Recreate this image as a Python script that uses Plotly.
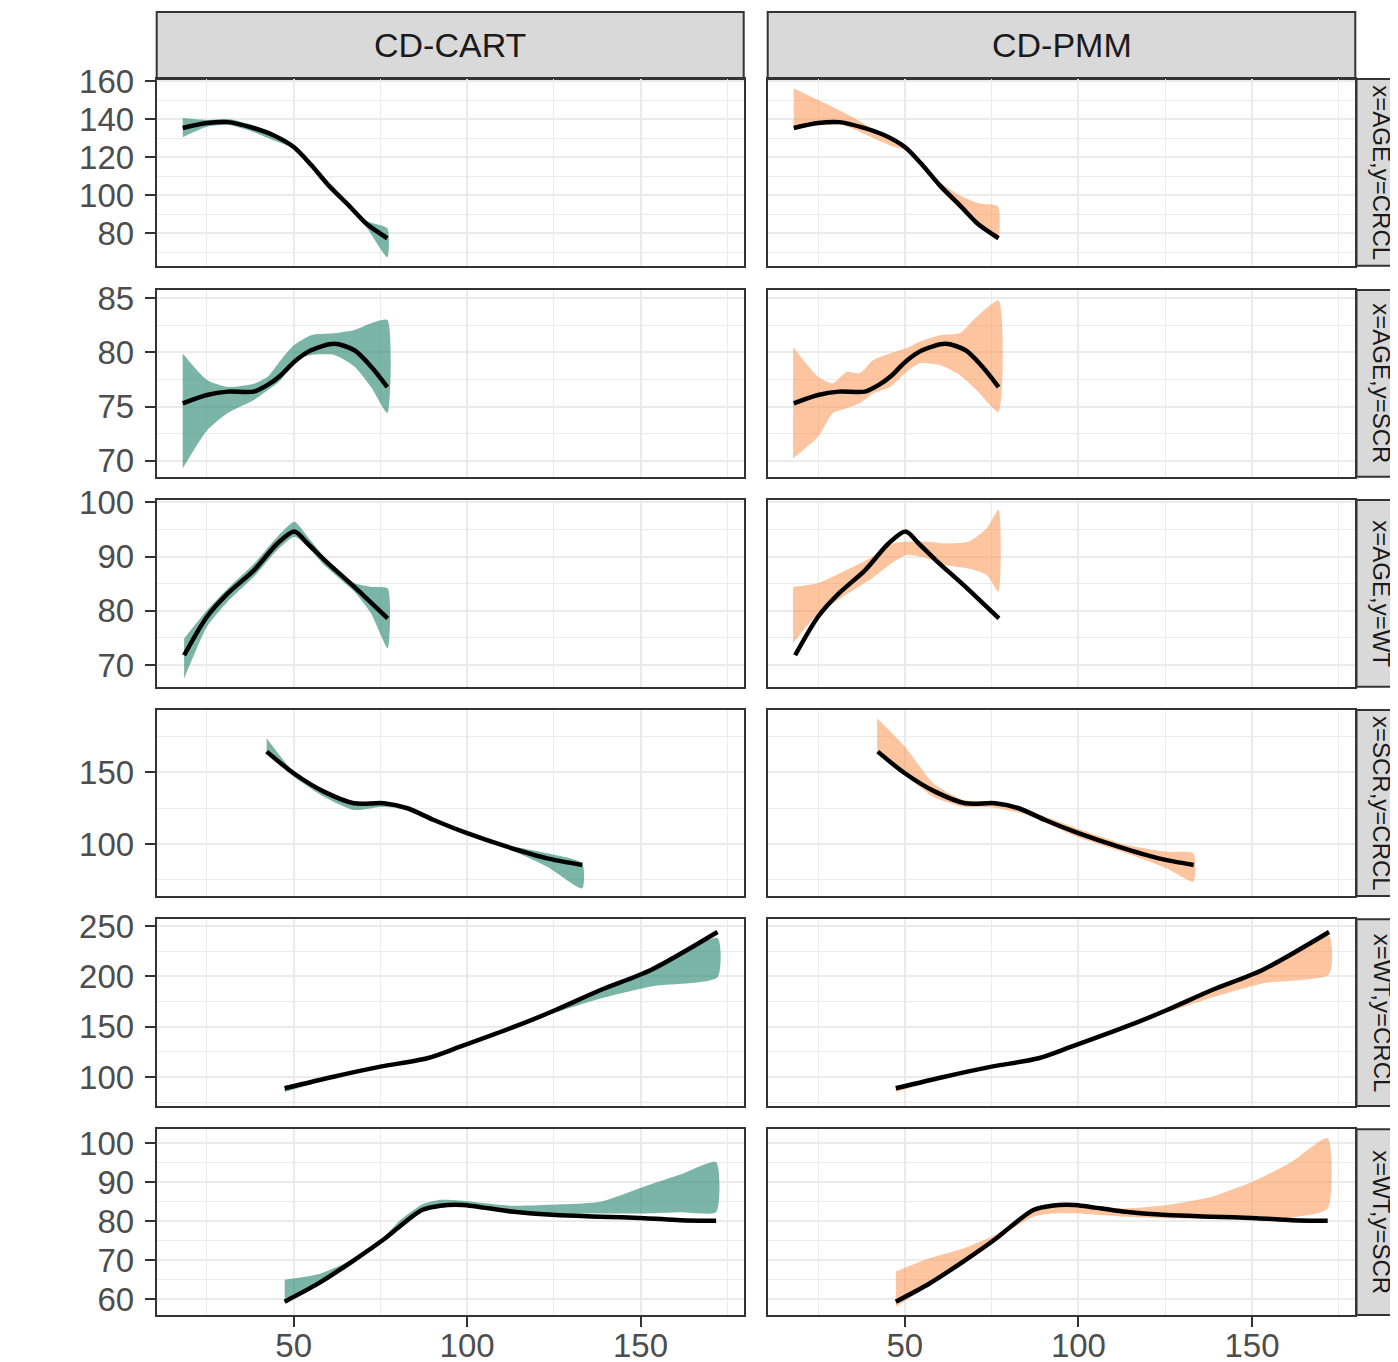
import plotly.graph_objects as go

# ---------------- data ----------------
col_labels = ["CD-CART", "CD-PMM"]
row_labels = ["x=AGE,y=CRCL", "x=AGE,y=SCR", "x=AGE,y=WT",
              "x=SCR,y=CRCL", "x=WT,y=CRCL", "x=WT,y=SCR"]
x_tickvals = [50, 100, 150]

# row 1: AGE vs CRCL
r1_x = [18, 25, 31, 38, 44, 50, 55, 60, 66, 71, 77]
r1_line = [135.3, 137.9, 138.4, 135.5, 131.6, 125.3, 116.0, 105.3, 94.4, 85.0, 77.4]
r1_cart_lo = [130.5, 136, 137, 133.5, 129, 124.5, 115.2, 105, 93, 83, 67.4]
r1_cart_hi = [140.5, 139.5, 140, 137, 132.5, 126, 116.8, 106, 95.5, 86.5, 82.6]
r1_pmm_x = [18, 25, 32, 39, 46.7, 50.4, 54.2, 60, 65.7, 71.5, 76.8]
r1_pmm_lo = [135.5, 136.8, 137, 131.6, 125.4, 123.5, 116.5, 103.5, 93, 84, 77.2]
r1_pmm_hi = [156.2, 150, 143.8, 136.8, 128, 125.5, 118.4, 107, 100, 95.6, 94.2]

# row 2: AGE vs SCR
r2_x = [18, 25, 31, 38.5, 42.5, 46.3, 50.2, 55, 61.7, 67.5, 72.3, 77]
r2_line = [75.3, 76.07, 76.38, 76.38, 77.0, 77.9, 79.15, 80.2, 80.8, 80.2, 78.7, 76.8]
r2_cart_lo = [69.3, 72.8, 74.4, 75.6, 76.5, 77.45, 79.3, 79.76, 79.76, 78.7, 76.8, 74.4]
r2_cart_hi = [79.9, 77.45, 76.8, 77.1, 77.75, 79.3, 80.7, 81.6, 81.77, 82.07, 82.7, 83.0]
r2_pmm_x = [17.8, 25, 29.3, 33.2, 37, 40.9, 45.7, 50.5, 54.3, 60.1, 65.9, 70.7, 77]
r2_pmm_lo = [70.2, 72.2, 74.4, 74.84, 75.3, 76.2, 76.8, 78.2, 79.0, 78.84, 77.9, 76.5, 74.5]
r2_pmm_hi = [80.5, 77.76, 77.15, 78.2, 78.07, 79.3, 79.9, 80.4, 81.0, 81.6, 81.8, 83.3, 84.8]

# row 3: AGE vs WT
r3_x = [18.4, 25, 31, 38.6, 45.3, 50.2, 54, 58.8, 67.5, 72.3, 77.1]
r3_line = [71.8, 78.9, 83.2, 87.5, 92.4, 94.6, 92.4, 89.4, 84.4, 81.5, 78.6]
r3_cart_lo = [67.5, 77.05, 81.7, 86.3, 91.2, 93.65, 91.8, 88.4, 83.5, 79.5, 73.1]
r3_cart_hi = [74.9, 80.1, 84.1, 88.7, 93.65, 96.4, 93.65, 90.0, 85.1, 84.4, 84.1]
r3_pmm_x = [17.8, 25, 32.2, 39.9, 46.7, 50.5, 56.3, 62, 68.3, 73.6, 77]
r3_pmm_lo = [74.0, 79.5, 82.6, 85.7, 89.0, 90.3, 89.7, 88.4, 87.8, 86.6, 83.5]
r3_pmm_hi = [84.4, 85.1, 87.2, 89.7, 92.4, 92.7, 92.7, 92.4, 92.7, 95.2, 98.6]

# row 4: SCR vs CRCL
r4_x = [42.2, 50, 58.7, 67.4, 76, 82.8, 90.4, 100, 111.5, 123.1, 133.2]
r4_line = [164.4, 149.3, 136.5, 128.4, 128.4, 124.9, 116.7, 107.5, 98.1, 90.0, 85.4]
r4_cart_lo = [163.2, 146.9, 133.0, 123.7, 126.0, 123.5, 115.6, 106.3, 97.0, 84.2, 69.1]
r4_cart_hi = [173.7, 150.4, 137.7, 129.5, 129.5, 125.5, 117.9, 108.6, 99.3, 93.5, 86.5]
r4_pmm_x = [42, 50, 58.2, 66.8, 75.4, 85.1, 99.5, 113.9, 125.4, 133.1]
r4_pmm_lo = [163.2, 148.1, 133.0, 126.0, 125.5, 120.2, 105.1, 93.5, 83.0, 73.7]
r4_pmm_hi = [187.7, 167.9, 142.3, 130.7, 129.5, 123.7, 111.0, 99.3, 94.6, 93.5]

# row 5: WT vs CRCL
r5_x = [47.4, 61.5, 75, 88.5, 98, 115, 125.5, 138.5, 153, 172.2]
r5_line = [88.8, 100.3, 110.3, 118.6, 130.1, 151.7, 166.6, 186.4, 206.3, 244]
r5_cart_lo = [85, 99, 109.5, 118, 129, 150, 164, 178, 190, 199]
r5_cart_hi = [91, 101.5, 111, 119.5, 131, 152.5, 167.5, 187, 206, 238]
r5_pmm_x = r5_x
r5_pmm_lo = [85, 99, 109.5, 118, 129, 150, 164, 179, 193, 202]
r5_pmm_hi = [91, 101.5, 111, 119.5, 131, 152.5, 167.5, 187, 207, 240]

# row 6: WT vs SCR
r6_x = [47.4, 57, 67, 76, 81, 87, 92.3, 98.7, 112.8, 125.6, 138.4, 151.3, 161.5, 171.8]
r6_line = [59.4, 64.0, 69.8, 75.4, 79.0, 82.9, 84.0, 84.2, 82.5, 81.6, 81.2, 80.8, 80.3, 80.15]
r6_cart_lo = [59.0, 63.5, 69.0, 75.0, 78.8, 82.5, 83.5, 83.8, 82.5, 82.0, 82.0, 82.0, 82.3, 82.4]
r6_cart_hi = [65.0, 66.4, 70.3, 76.0, 80.5, 84.3, 85.5, 85.3, 84.0, 84.3, 85.0, 89.0, 92.0, 95.2]
r6_pmm_x = r6_x
r6_pmm_lo = [58.1, 63.5, 69.0, 74.8, 78.2, 81.2, 82.0, 82.05, 81.2, 80.8, 80.6, 80.6, 81.0, 83.3]
r6_pmm_hi = [67.1, 70.5, 73.1, 76.5, 79.5, 83.5, 84.5, 84.2, 83.3, 84.2, 86.3, 90.6, 95.3, 101.3]

rows = [
    (r1_x, r1_line, r1_cart_lo, r1_cart_hi, r1_pmm_x, r1_pmm_lo, r1_pmm_hi),
    (r2_x, r2_line, r2_cart_lo, r2_cart_hi, r2_pmm_x, r2_pmm_lo, r2_pmm_hi),
    (r3_x, r3_line, r3_cart_lo, r3_cart_hi, r3_pmm_x, r3_pmm_lo, r3_pmm_hi),
    (r4_x, r4_line, r4_cart_lo, r4_cart_hi, r4_pmm_x, r4_pmm_lo, r4_pmm_hi),
    (r5_x, r5_line, r5_cart_lo, r5_cart_hi, r5_pmm_x, r5_pmm_lo, r5_pmm_hi),
    (r6_x, r6_line, r6_cart_lo, r6_cart_hi, r6_pmm_x, r6_pmm_lo, r6_pmm_hi),
]

# ---------------- layout / style ----------------
OFF = 8                      # default page body margin
W, H = 1398 - OFF, 1362 - OFF
FONT = "Liberation Sans, Arial, sans-serif"
x_range = [10.5, 179.75]
y_ranges = [[62.98, 161.05], [68.52, 85.77], [66.0, 100.42],
             [63.74, 193.4], [71.2, 256.65], [55.97, 103.6]]
y_major = [20, 5, 10, 50, 50, 10]
col_px = [(156.7, 743.7), (767.7, 1355.3)]
row_px = [(79, 265.7), (290, 476.7), (500, 686.7),
          (710, 896), (919.3, 1106), (1129.3, 1315)]
fills = ["rgba(27,128,104,0.58)", "rgba(251,150,80,0.55)"]
GRID = "#EBEBEB"
BORDER = "#333333"


def fx(px):
    return (px - OFF) / W


def fy(py):
    return 1 - (py - OFF) / H


fig = go.Figure()
layout = dict(width=W, height=H,
              margin=dict(l=0, r=0, t=0, b=0, pad=0, autoexpand=False),
              paper_bgcolor="white", plot_bgcolor="white",
              showlegend=False, shapes=[], annotations=[])

for r in range(6):
    xs, line, clo, chi, px_, plo, phi = rows[r]
    for c in range(2):
        k = r * 2 + c
        xa = "x" if k == 0 else f"x{k + 1}"
        ya = "y" if k == 0 else f"y{k + 1}"
        xkey = "xaxis" if k == 0 else f"xaxis{k + 1}"
        ykey = "yaxis" if k == 0 else f"yaxis{k + 1}"
        bx = xs if c == 0 else px_
        lo = clo if c == 0 else plo
        hi = chi if c == 0 else phi
        fig.add_trace(go.Scatter(
            x=list(bx) + list(bx)[::-1], y=list(hi) + list(lo)[::-1],
            fill="toself", fillcolor=fills[c], mode="lines",
            line=dict(width=0, shape="spline", smoothing=0.6, color=fills[c]),
            hoverinfo="skip", xaxis=xa, yaxis=ya))
        fig.add_trace(go.Scatter(
            x=xs, y=line, mode="lines",
            line=dict(color="black", width=4.5, shape="spline", smoothing=0.8),
            xaxis=xa, yaxis=ya))
        bottom = (r == 5)
        left = (c == 0)
        layout[xkey] = dict(
            domain=[fx(col_px[c][0]), fx(col_px[c][1])], range=x_range,
            anchor=ya, tickmode="array", tickvals=x_tickvals,
            showgrid=True, gridcolor=GRID, gridwidth=2.2,
            minor=dict(tickmode="array", tickvals=[25, 75, 125, 175],
                       showgrid=True, gridcolor=GRID, gridwidth=1.1),
            showline=True, mirror=True, linecolor=BORDER, linewidth=2,
            zeroline=False,
            ticks="outside" if bottom else "", ticklen=10, tickwidth=2.2,
            tickcolor=BORDER, showticklabels=bottom, ticklabelstandoff=-10,
            tickfont=dict(family=FONT, size=33, color="#4D4D4D"))
        layout[ykey] = dict(
            domain=[fy(row_px[r][1]), fy(row_px[r][0])],
            range=y_ranges[r], anchor=xa,
            tick0=0, dtick=y_major[r],
            showgrid=True, gridcolor=GRID, gridwidth=2.2,
            minor=dict(dtick=y_major[r] / 2, tick0=0, showgrid=True,
                       gridcolor=GRID, gridwidth=1.1),
            showline=True, mirror=True, linecolor=BORDER, linewidth=2,
            zeroline=False,
            ticks="outside" if left else "", ticklen=10, tickwidth=2.2,
            tickcolor=BORDER, showticklabels=left, ticklabelstandoff=4,
            tickfont=dict(family=FONT, size=33, color="#4D4D4D"))

# top strips
for c in range(2):
    x0, x1 = col_px[c]
    layout["shapes"].append(dict(type="rect", xref="paper", yref="paper",
                                 x0=fx(x0), x1=fx(x1), y0=fy(79), y1=fy(12),
                                 fillcolor="#D9D9D9", line=dict(color=BORDER, width=2),
                                 layer="below"))
    layout["annotations"].append(dict(text=col_labels[c], xref="paper", yref="paper",
                                      x=fx((x0 + x1) / 2), y=fy(45.5),
                                      showarrow=False, xanchor="center", yanchor="middle",
                                      font=dict(family=FONT, size=34, color="#1A1A1A")))
# right strips
for r in range(6):
    y0, y1 = row_px[r]
    layout["shapes"].append(dict(type="rect", xref="paper", yref="paper",
                                 x0=fx(1356.5), x1=fx(1410), y0=fy(y1), y1=fy(y0),
                                 fillcolor="#D9D9D9", line=dict(color=BORDER, width=2),
                                 layer="below"))
    layout["annotations"].append(dict(text=row_labels[r], xref="paper", yref="paper",
                                      x=fx(1382), y=fy((y0 + y1) / 2), textangle=90,
                                      showarrow=False, xanchor="center", yanchor="middle",
                                      font=dict(family=FONT, size=24, color="#1A1A1A")))

fig.update_layout(**layout)
fig.write_html("out.html")
